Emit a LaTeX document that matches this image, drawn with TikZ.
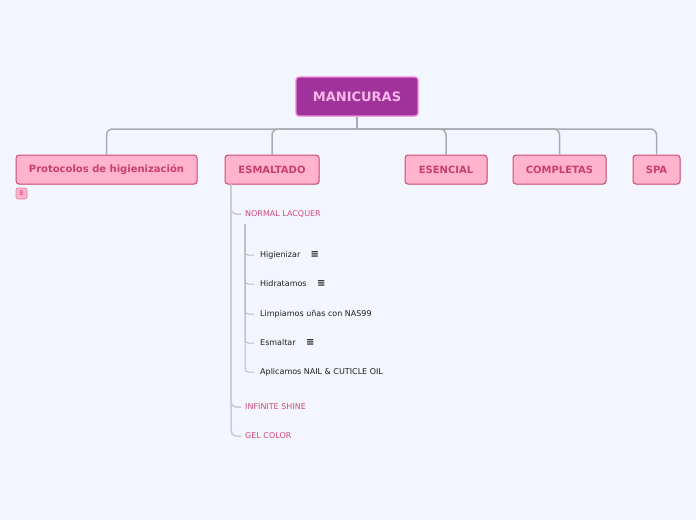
\documentclass[tikz,border=0pt]{standalone}
\usepackage{fontspec}
\setmainfont{DejaVu Sans}
\usepackage{xcolor}
\usetikzlibrary{positioning,calc,shadows}
\definecolor{pagebg}{HTML}{F3F6FE}
\definecolor{rootfill}{HTML}{A0339B}
\definecolor{rootline}{HTML}{F08AD8}
\definecolor{roottext}{HTML}{F7B8E8}
\definecolor{topfill}{HTML}{FFB3CC}
\definecolor{topline}{HTML}{CF4C72}
\definecolor{toptext}{HTML}{C93F6C}
\definecolor{subtext}{HTML}{D2497D}
\definecolor{linkx}{HTML}{A9AAB2}
\definecolor{sublink}{HTML}{C9CCD3}
\definecolor{leaftext}{HTML}{1E1E1E}
\tikzset{
  root/.style={draw=rootline,line width=1.2pt,fill=rootfill,rounded corners=3pt,
    minimum width=122pt,minimum height=39pt,font=\fontsize{13}{15}\selectfont\bfseries,text=roottext},
  topic/.style={draw=topline,line width=1pt,fill=topfill,rounded corners=3pt,
    minimum height=29pt,inner xsep=6pt,font=\fontsize{10}{12}\selectfont\bfseries,text=toptext,
    drop shadow={shadow xshift=0.6pt,shadow yshift=-1pt,opacity=0.25}},
  badge/.style={draw=topline!70,line width=0.6pt,fill=topfill,rounded corners=2pt,
    minimum width=11pt,minimum height=11pt,inner sep=0pt,font=\fontsize{6.5}{7}\selectfont,text=toptext},
  sub/.style={anchor=west,inner sep=1pt,font=\fontsize{8}{9}\selectfont,text=subtext},
  leaf/.style={anchor=west,inner sep=1pt,font=\fontsize{8}{9}\selectfont,text=leaftext},
  menu/.style={anchor=west,inner sep=0pt,font=\fontsize{10}{10}\selectfont\bfseries,text=leaftext},
  conn/.style={linkx,line width=1.5pt,rounded corners=6pt},
  subconn/.style={sublink,line width=1.5pt,rounded corners=5pt},
  leafconn/.style={sublink!80!gray,line width=1pt,rounded corners=3pt}
}
\begin{document}
\begin{tikzpicture}[x=1pt,y=-1pt]
\fill[pagebg] (0,0) rectangle (696,520);
\useasboundingbox (0,0) rectangle (696,520);

\node[root] (mani) at (357,96.5) {MANICURAS};

\node[topic,minimum width=181pt] (proto) at (106.5,169.5) {Protocolos de higienización};
\node[topic,minimum width=94pt] (esm) at (272,169.5) {ESMALTADO};
\node[topic,minimum width=82pt] (esen) at (446,169.5) {ESENCIAL};
\node[topic,minimum width=93pt] (comp) at (559.5,169.5) {COMPLETAS};
\node[topic,minimum width=47pt] (spa) at (656.5,169.5) {SPA};
\node[badge] (cnt) at (21.5,193.5) {8};

% hub lines from the root
\coordinate (bus) at (357,129);
\draw[linkx,line width=1.5pt] (mani.south) -- (bus);
\foreach \k in {proto,esm,esen,comp,spa}{
  \draw[conn] (bus) -| (\k.north);
}

% ESMALTADO branch
\node[sub] (nl) at (244,214) {NORMAL LACQUER};
\node[sub] (inf) at (244,407) {INFINITE SHINE};
\node[sub] (gel) at (244,436) {GEL COLOR};
\coordinate (esmroot) at ($(esm.south west)+(6.5,0)$);
\foreach \k in {nl,inf,gel}{
  \draw[subconn] (esmroot) |- ($(\k.west)+(-3,0)$);
}

% NORMAL LACQUER items
\node[leaf] (hig) at (259,255) {Higienizar};
\node[leaf] (hid) at (259,284) {Hidratamos};
\node[leaf] (lim) at (259,314) {Limpiamos uñas con NAS99};
\node[leaf] (esl) at (259,343) {Esmaltar};
\node[leaf] (apl) at (259,372) {Aplicamos NAIL \& CUTICLE OIL};
\node[menu,right=9pt of hig] (m1) {≡};
\node[menu,right=9pt of hid] (m2) {≡};
\node[menu,right=9pt of esl] (m3) {≡};
\coordinate (nlroot) at (245,224);
\foreach \k in {hig,hid,lim,esl,apl}{
  \draw[leafconn] (nlroot) |- ($(\k.west)+(-5,0)$);
}
\end{tikzpicture}
\end{document}
